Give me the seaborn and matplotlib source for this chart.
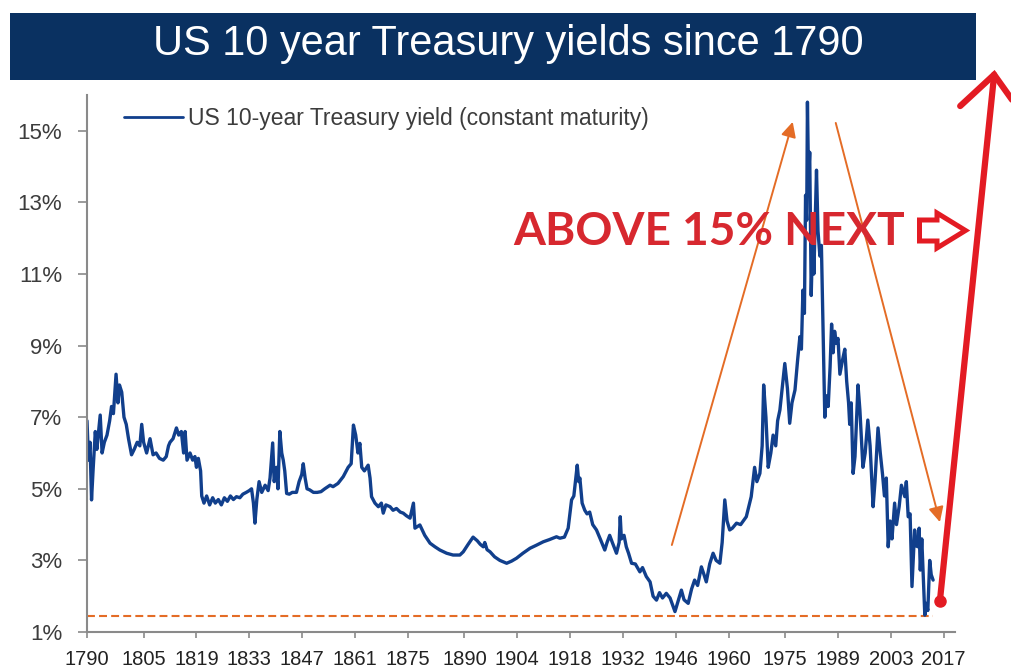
import matplotlib
matplotlib.use("Agg")
import matplotlib.pyplot as plt
from matplotlib import font_manager
from matplotlib.patches import Rectangle, Polygon, ArrowStyle
import seaborn as sns
import pandas as pd

# ---------------------------------------------------------------------------
# Data: US 10-year Treasury yield (%), observation date as fractional year
# ---------------------------------------------------------------------------
years = [
    1790.0, 1790.4, 1790.8, 1791.2, 1791.6, 1792.2, 1792.6, 1793.5, 1794.0, 1794.6,
    1795.3, 1796.0, 1796.5, 1797.0, 1797.7, 1798.2, 1798.6, 1799.2, 1799.8, 1800.4,
    1801.0, 1801.8, 1802.5, 1803.3, 1804.0, 1804.5, 1805.0, 1805.8, 1806.7, 1807.5,
    1808.3, 1809.2, 1810.2, 1811.0, 1811.6, 1812.0, 1812.8, 1813.7, 1814.3, 1815.0,
    1815.6, 1816.0, 1816.5, 1817.3, 1818.0, 1818.6, 1819.0, 1819.5, 1820.1, 1820.4,
    1821.0, 1821.7, 1822.5, 1823.3, 1824.0, 1824.8, 1825.6, 1826.4, 1827.2, 1828.0,
    1828.8, 1829.6, 1830.5, 1831.3, 1832.2, 1833.0, 1833.6, 1834.1, 1834.5, 1835.0,
    1835.6, 1836.3, 1837.2, 1838.0, 1838.5, 1839.2, 1839.6, 1840.2, 1840.6, 1841.1,
    1841.6, 1842.0, 1842.4, 1842.9, 1843.6, 1844.4, 1845.5, 1846.2, 1846.9, 1847.3,
    1847.8, 1848.3, 1849.0, 1850.0, 1851.0, 1852.0, 1853.0, 1854.4, 1855.2, 1856.5,
    1857.9, 1859.2, 1860.0, 1860.6, 1861.2, 1861.8, 1862.3, 1862.8, 1863.5, 1864.5,
    1865.0, 1865.4, 1866.3, 1867.2, 1868.0, 1868.5, 1869.2, 1870.3, 1871.1, 1872.0,
    1873.0, 1873.8, 1874.6, 1875.6, 1876.5, 1876.9, 1878.2, 1879.5, 1880.9, 1882.2,
    1883.5, 1885.3, 1887.0, 1888.8, 1889.7, 1891.0, 1892.3, 1893.4, 1894.2, 1895.0,
    1895.4, 1896.0, 1896.8, 1898.0, 1899.4, 1901.2, 1902.5, 1903.8, 1905.5, 1907.4,
    1909.0, 1910.9, 1912.5, 1914.4, 1915.3, 1916.5, 1917.5, 1918.4, 1919.0, 1919.9,
    1920.3, 1920.6, 1921.2, 1921.9, 1922.5, 1923.2, 1924.0, 1925.0, 1926.0, 1927.2,
    1927.8, 1928.5, 1929.2, 1930.3, 1931.0, 1931.3, 1931.6, 1932.3, 1932.9, 1933.5,
    1934.3, 1935.3, 1936.5, 1937.2, 1938.2, 1939.2, 1940.0, 1940.9, 1941.7, 1942.5,
    1943.5, 1944.5, 1945.8, 1946.6, 1947.5, 1948.2, 1949.3, 1950.2, 1951.0, 1951.8,
    1952.8, 1953.5, 1954.1, 1955.0, 1955.9, 1956.7, 1957.7, 1958.3, 1959.0, 1959.6,
    1960.3, 1961.0, 1962.1, 1963.2, 1964.7, 1966.0, 1966.9, 1967.5, 1968.3, 1968.9,
    1969.3, 1969.9, 1970.5, 1971.2, 1971.8, 1972.5, 1973.0, 1973.6, 1974.3, 1974.9,
    1975.6, 1976.2, 1976.8, 1977.6, 1978.3, 1978.9, 1979.3, 1979.7, 1980.1, 1980.4,
    1980.7, 1980.9, 1981.2, 1981.5, 1981.9, 1982.3, 1982.6, 1983.0, 1983.3, 1983.7,
    1984.2, 1984.6, 1985.0, 1985.5, 1985.9, 1986.4, 1986.9, 1987.3, 1987.7, 1988.1,
    1988.6, 1989.0, 1989.5, 1990.2, 1990.8, 1991.3, 1991.8, 1992.1, 1992.5, 1993.0,
    1993.5, 1994.3, 1994.8, 1995.6, 1996.2, 1996.9, 1997.5, 1998.3, 1998.8, 1999.6,
    2000.2, 2000.8, 2001.3, 2001.8, 2002.3, 2002.8, 2003.3, 2004.0, 2004.5, 2005.2,
    2005.8, 2006.7, 2007.1, 2007.6, 2008.1, 2008.6, 2009.3, 2009.8, 2010.2, 2010.5,
    2010.8, 2011.2, 2011.6, 2012.0, 2012.4, 2012.8, 2013.3, 2013.7, 2014.2,
]

yields = [
    6.90, 5.80, 6.30, 4.69, 5.50, 6.60, 6.10, 7.06, 6.00, 6.30,
    6.50, 6.90, 7.30, 7.10, 8.20, 7.40, 7.90, 7.70, 7.00, 6.80,
    6.40, 5.95, 6.10, 6.30, 6.20, 6.80, 6.30, 6.00, 6.40, 5.95,
    6.00, 5.85, 5.80, 5.90, 6.20, 6.30, 6.40, 6.70, 6.50, 6.60,
    6.00, 6.60, 5.80, 6.00, 5.80, 5.90, 5.60, 5.85, 5.50, 4.80,
    4.60, 4.80, 4.55, 4.75, 4.60, 4.70, 4.55, 4.75, 4.65, 4.80,
    4.70, 4.78, 4.75, 4.85, 4.90, 4.95, 5.00, 4.60, 4.04, 4.70,
    5.20, 4.90, 5.10, 4.95, 5.30, 6.28, 5.20, 5.60, 5.00, 6.60,
    6.00, 5.80, 5.50, 4.87, 4.85, 4.90, 4.90, 5.20, 5.40, 5.70,
    5.30, 5.00, 4.97, 4.90, 4.90, 4.92, 5.00, 5.10, 5.06, 5.15,
    5.34, 5.60, 5.70, 6.78, 6.50, 6.00, 6.27, 5.60, 5.50, 5.66,
    5.30, 4.78, 4.60, 4.50, 4.60, 4.32, 4.55, 4.50, 4.40, 4.45,
    4.35, 4.32, 4.25, 4.18, 4.60, 3.90, 3.99, 3.70, 3.48, 3.38,
    3.29, 3.20, 3.15, 3.15, 3.24, 3.45, 3.65, 3.55, 3.45, 3.38,
    3.50, 3.30, 3.24, 3.10, 3.00, 2.92, 2.98, 3.06, 3.20, 3.34,
    3.42, 3.52, 3.58, 3.66, 3.62, 3.65, 3.90, 4.69, 4.80, 5.66,
    5.20, 5.30, 4.60, 4.40, 4.30, 4.35, 4.00, 3.85, 3.60, 3.29,
    3.50, 3.70, 3.50, 3.20, 3.50, 4.22, 3.60, 3.70, 3.38, 3.20,
    2.92, 2.90, 2.68, 2.80, 2.55, 2.40, 2.00, 1.89, 2.10, 1.95,
    2.08, 1.95, 1.57, 1.85, 2.17, 1.90, 1.80, 2.20, 2.45, 2.30,
    2.82, 2.60, 2.40, 2.90, 3.20, 3.00, 2.92, 3.50, 4.69, 4.10,
    3.85, 3.90, 4.04, 4.00, 4.22, 4.78, 5.60, 5.20, 5.43, 6.20,
    7.90, 7.00, 5.60, 6.00, 6.50, 6.20, 6.90, 7.20, 7.90, 8.50,
    7.80, 6.83, 7.40, 7.76, 8.60, 9.25, 8.90, 10.55, 9.90, 13.20,
    12.50, 15.80, 13.60, 14.40, 10.40, 12.10, 11.00, 12.60, 13.90, 12.20,
    11.50, 11.80, 9.60, 7.00, 7.60, 7.30, 8.40, 9.60, 8.80, 9.40,
    9.06, 9.20, 8.20, 8.60, 8.90, 8.00, 7.40, 6.80, 7.40, 5.43,
    5.90, 7.90, 7.20, 5.60, 6.00, 6.92, 6.20, 4.50, 5.20, 6.70,
    6.00, 5.40, 4.80, 5.30, 3.38, 4.10, 3.60, 4.60, 4.00, 4.50,
    5.10, 4.78, 5.20, 4.22, 4.30, 2.27, 3.85, 3.40, 3.38, 3.90,
    2.73, 3.60, 2.50, 1.47, 1.80, 1.60, 3.00, 2.60, 2.45,
]

series_label = "US 10-year Treasury yield (constant maturity)"
title_text = "US 10 year Treasury yields since 1790"
callout_text = "ABOVE 15% NEXT"

xtick_years = [1790, 1805, 1819, 1833, 1847, 1861, 1875, 1890, 1904,
               1918, 1932, 1946, 1960, 1975, 1989, 2003, 2017]
ytick_values = [1, 3, 5, 7, 9, 11, 13, 15]

record_low = 1.45          # dashed reference level (%)
record_low_span = (1790, 2014.2)

# ---------------------------------------------------------------------------
# Styling
# ---------------------------------------------------------------------------
NAVY_LINE = "#113f8c"
NAVY_BAR = "#0a3161"
ORANGE = "#e46c26"
RED = "#e31b23"
CALLOUT_RED = "#d7282f"
TEXT_GREY = "#3c3c3c"
AXIS_GREY = "#8a8a8a"

W, H = 1011, 670

sns.set_theme(style="white")
plt.rcParams["font.family"] = ["Liberation Sans", "DejaVu Sans"]

# Year labels use a narrow face when one is installed
_installed = {f.name for f in font_manager.fontManager.ttflist}
if "Liberation Sans Narrow" in _installed:
    year_font = dict(family=["Liberation Sans Narrow", "DejaVu Sans"],
                     size=18, pad=4.0)
else:
    year_font = dict(family=["Liberation Sans", "DejaVu Sans"],
                     size=14.5, pad=8.5)

fig = plt.figure(figsize=(W / 100, H / 100), dpi=100)
fig.patch.set_facecolor("white")


def fig_xy(x_px, y_px):
    """Pixel position (from the top-left corner) to figure fraction."""
    return x_px / W, 1 - y_px / H


ax = fig.add_axes([87 / W, 1 - 632 / H, 868 / W, 537 / H])
ax.set_facecolor("white")

df = pd.DataFrame({"year": years, "yield": yields})
sns.lineplot(data=df, x="year", y="yield", ax=ax, color=NAVY_LINE,
             linewidth=2.4, estimator=None, sort=False, label=series_label)

# Dashed line at the historic low
ax.plot(list(record_low_span), [record_low, record_low], color=ORANGE,
        lw=1.5, ls=(0, (3.8, 2.0)), zorder=1)

ax.set_xlim(1790, 2020)
ax.set_ylim(1, 16)
ax.set_xlabel("")
ax.set_ylabel("")

ax.set_xticks(xtick_years)
ax.set_xticklabels([str(y) for y in xtick_years])
ax.set_yticks(ytick_values)
ax.set_yticklabels([f"{v}%" for v in ytick_values])

for side in ("top", "right"):
    ax.spines[side].set_visible(False)
for side in ("left", "bottom"):
    ax.spines[side].set_color(AXIS_GREY)
    ax.spines[side].set_linewidth(1.5)

ax.tick_params(axis="y", direction="out", length=6.5, width=1.2,
               color=AXIS_GREY, pad=11.5, labelsize=16, labelcolor=TEXT_GREY,
               left=True)
ax.tick_params(axis="x", direction="out", length=4.5, width=1.2,
               color=AXIS_GREY, pad=year_font["pad"],
               labelsize=year_font["size"], labelcolor="#222222", bottom=True)
for lbl in ax.get_xticklabels():
    lbl.set_family(year_font["family"])

leg = ax.legend(loc="center left",
                bbox_to_anchor=((124 - 87) / 868, (632 - 119) / 537),
                frameon=False, fontsize=16.5, handlelength=2.57,
                handletextpad=0.22, borderpad=0, borderaxespad=0)
for t in leg.get_texts():
    t.set_color(TEXT_GREY)
for h in leg.get_lines():
    h.set_linewidth(2.0)

# Orange trend arrows: the rise into 1981 and the decline afterwards
orange_head = ArrowStyle("-|>", head_length=9, head_width=4.5)
ax.annotate("", xy=(1977.0, 15.25), xytext=(1944.97, 3.43),
            arrowprops=dict(arrowstyle=orange_head, mutation_scale=1,
                            color=ORANGE, lw=1.4, shrinkA=0, shrinkB=0))
ax.annotate("", xy=(2016.0, 4.07), xytext=(1988.4, 15.22),
            arrowprops=dict(arrowstyle=orange_head, mutation_scale=1,
                            color=ORANGE, lw=1.4, shrinkA=0, shrinkB=0))

# Red projection arrow shooting off the top of the chart
red_head = ArrowStyle("->", head_length=25, head_width=22)
ax.annotate("", xy=(2030.5, 16.7), xytext=(2016.0, 1.87),
            annotation_clip=False,
            arrowprops=dict(arrowstyle=red_head, mutation_scale=1,
                            color=RED, lw=4.5, shrinkA=0, shrinkB=0,
                            capstyle="round", joinstyle="miter"))
ax.plot([2016.0], [1.87], marker="o", ms=8, color=RED, clip_on=False,
        zorder=5)

# Title banner
fig.patches.append(Rectangle(fig_xy(10, 80), 966 / W, 67 / H,
                             transform=fig.transFigure, facecolor=NAVY_BAR,
                             edgecolor="none", zorder=0))
title = fig.text(*fig_xy(508, 55), title_text, color="white", fontsize=29,
                 ha="center", va="baseline",
                 family=["Liberation Sans", "DejaVu Sans"])

# Red call-out text with a hollow block arrow
callout = fig.text(*fig_xy(513, 245), callout_text, color=CALLOUT_RED,
                   fontsize=33, fontweight="bold", ha="left", va="baseline",
                   family=["Lato", "Open Sans", "DejaVu Sans"])

block_arrow_px = [(919.5, 220), (937, 220), (937, 213), (965.5, 230.5),
                  (937, 248), (937, 241), (919.5, 241)]
fig.patches.append(Polygon([fig_xy(x, y) for x, y in block_arrow_px],
                           closed=True, transform=fig.transFigure,
                           facecolor="white", edgecolor=RED, lw=3.6,
                           joinstyle="miter", zorder=6))

# Size the banner title and the call-out to their measured widths
fig.canvas.draw()
renderer = fig.canvas.get_renderer()
for artist, target in ((title, 712), (callout, 392)):
    w = artist.get_window_extent(renderer).width
    artist.set_fontsize(artist.get_fontsize() * target / w)

fig.savefig("out.png", dpi=100, facecolor="white")
